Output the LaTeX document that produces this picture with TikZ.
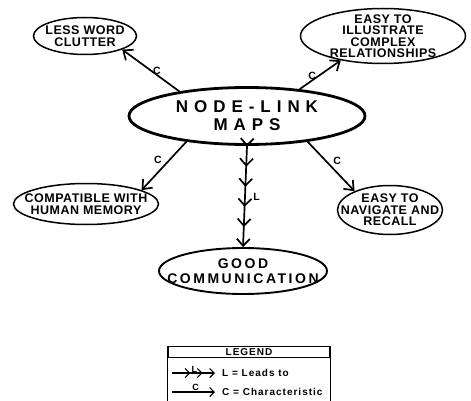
\documentclass[tikz,border=0pt]{standalone}
\usepackage{fontspec}
\setmainfont{Liberation Sans}
\newfontfamily\ideafont[LetterSpace=4]{Liberation Sans}
\newfontfamily\hubfont[LetterSpace=35]{Liberation Sans}
\newfontfamily\goalfont[LetterSpace=18]{Liberation Sans}
\newfontfamily\keyfont[LetterSpace=10]{Liberation Sans}
\usepackage{tikz}
\usetikzlibrary{shapes, arrows.meta}

\begin{document}
\begin{tikzpicture}[
    x=1pt, y=-1pt,
    idea/.style ={ellipse, draw=black, line width=1.5pt, align=center, inner xsep=-30pt, inner ysep=-10pt, font=\ideafont\bfseries\fontsize{12.5}{11.5}\selectfont},
    line/.style ={draw, line width=1.7pt, -{Straight Barb[length=8pt, width=13pt]}},
    lead/.style ={draw, line width=1.7pt, -{Straight Barb[length=7pt, width=13pt, sep=11pt]Straight Barb[length=7pt, width=13pt, sep=11pt]Straight Barb[length=7pt, width=13pt, sep=11pt]Straight Barb[length=7pt, width=13pt, sep=11pt]Straight Barb[length=7pt, width=13pt, sep=11pt]Straight Barb[length=7pt, width=13pt]}},
    tag/.style ={font=\bfseries\fontsize{10.5}{12}\selectfont, inner sep=1.5pt},
    keyline/.style ={draw, line width=1.1pt},
    keytag/.style ={font=\keyfont\bfseries\fontsize{10}{12}\selectfont, inner sep=1pt},
]
\useasboundingbox (0,0) rectangle (471,401);

% Nodes
\node [idea, line width=2.8pt, minimum width=236pt, minimum height=57pt, font=\hubfont\bfseries\fontsize{17}{18}\selectfont] (maps) at (247,116) {NODE-LINK\\MAPS};
\node [idea, minimum width=103pt, minimum height=37pt] (clutter) at (85,36) {LESS WORD\\CLUTTER};
\node [idea, minimum width=165pt, minimum height=55pt] (complex) at (383,36) {EASY TO\\ILLUSTRATE\\COMPLEX\\RELATIONSHIPS};
\node [idea, minimum width=145pt, minimum height=41pt] (memory) at (86,204) {COMPATIBLE WITH\\HUMAN MEMORY};
\node [idea, minimum width=105pt, minimum height=49pt] (navigate) at (390,210) {EASY TO\\NAVIGATE AND\\RECALL};
\node [idea, line width=1.9pt, minimum width=168pt, minimum height=46pt, font=\goalfont\bfseries\fontsize{14}{14.5}\selectfont] (goal) at (243,271) {GOOD\\COMMUNICATION};

% Lines
\path [line] (maps.160) -- node [tag, right, pos=.5] {C} (clutter.-20);
\path [line] (maps.27) -- node [tag, left, pos=.45] {C} (complex.210);
\path [line] (maps.203) -- node [tag, above left, pos=.5] {C} (memory.14);
\path [line] (maps.337) -- node [tag, above right, pos=.5] {C} (navigate.152);
\path [lead] (maps.south) -- node [tag, right=6pt, pos=.5] {L} (goal.north);

% Legend
\node [draw, line width=1.1pt, minimum width=162pt, minimum height=11.5pt, inner sep=0pt, font=\keyfont\bfseries\fontsize{10}{12}\selectfont] (legend) at (249,352) {LEGEND};
\draw [line width=1.1pt] (legend.south west) -- ++(0,60);
\draw [line width=1.1pt] (legend.south east) -- ++(0,60);
\coordinate (leadfrom) at (172,373);
\coordinate (leadto) at (215,373);
\coordinate (charfrom) at (172,392);
\coordinate (charto) at (215,392);
\path [keyline, -{Straight Barb[length=4.5pt, width=9pt, sep=6.5pt]Straight Barb[length=4.5pt, width=9pt, sep=6.5pt]Straight Barb[length=4.5pt, width=9pt]}] (leadfrom) -- node [keytag, font=\bfseries\fontsize{9}{10}\selectfont, above=-1pt, pos=.52] {L} (leadto);
\path [keyline, -{Straight Barb[length=4.5pt, width=9pt]}] (charfrom) -- node [keytag, font=\bfseries\fontsize{9}{10}\selectfont, above=0pt, pos=.55] {C} (charto);
\node [keytag, anchor=west] (leadtext) at (221,373) {L = Leads to};
\node [keytag, anchor=west] (chartext) at (221,392) {C = Characteristic};

\end{tikzpicture}
\end{document}
